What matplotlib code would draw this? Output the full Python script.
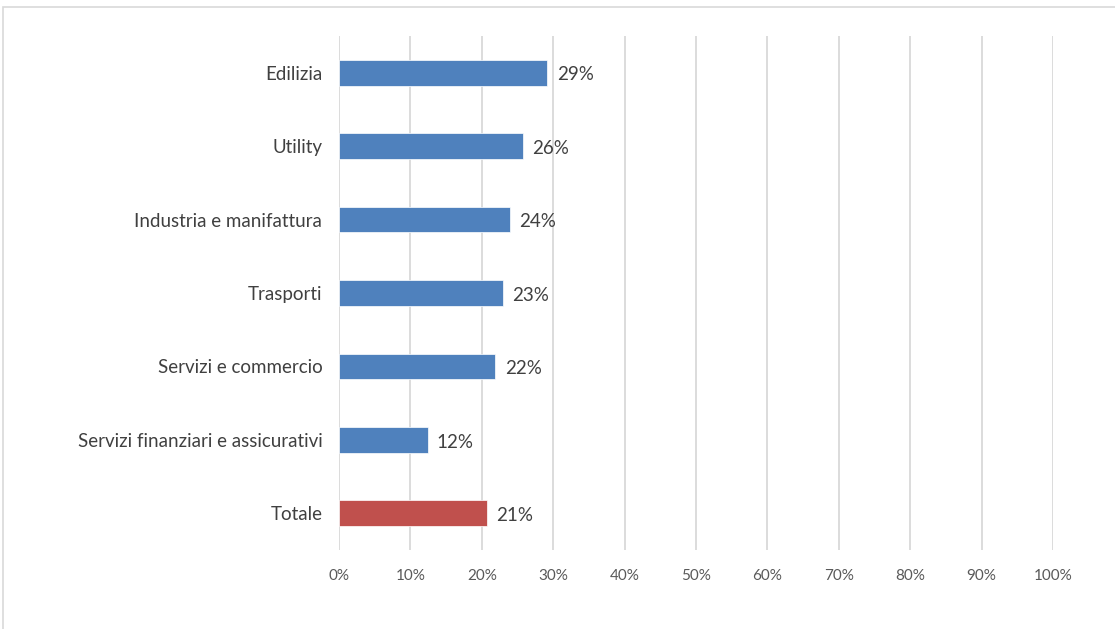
import matplotlib
matplotlib.use("Agg")
import matplotlib.pyplot as plt
from matplotlib.patches import Rectangle

categories = [
    "Edilizia",
    "Utility",
    "Industria e manifattura",
    "Trasporti",
    "Servizi e commercio",
    "Servizi finanziari e assicurativi",
    "Totale",
]
values = [29.2, 25.8, 23.9, 23.0, 21.9, 12.4, 20.7]
colors = ["#4F81BD"] * 6 + ["#C0504D"]
xticks = list(range(0, 101, 10))
xtick_labels = [f"{t}%" for t in xticks]

plt.rcParams["font.family"] = ["Lato", "DejaVu Sans"]

W, H = 1115, 629
fig = plt.figure(figsize=(W / 100, H / 100), dpi=100)
ax = fig.add_axes([339 / W, 1 - 550 / H, (1053 - 339) / W, (550 - 36) / H])

# outer chart frame
fig.patches.append(Rectangle((3 / W, -0.1), 1.2, 1 - 7 / H + 0.1,
                             transform=fig.transFigure, fill=False,
                             edgecolor="#D9D9D9", linewidth=1.2))

ypos = list(range(len(categories)))
ax.barh(ypos, values, height=0.35, color=colors, edgecolor="white",
        linewidth=0.5, zorder=3)
for y, v in zip(ypos, values):
    ax.text(v + 1.3, y + 0.03, f"{v:.0f}%", va="center", ha="left",
            fontsize=13.5, color="#404040")

ax.set_ylim(len(categories) - 0.5, -0.5)
ax.set_xlim(0, 100)
ax.set_yticks(ypos)
ax.set_yticklabels(categories, fontsize=13.5, color="#404040")
ax.set_xticks(xticks)
ax.set_xticklabels(xtick_labels, fontsize=11, color="#595959")
ax.tick_params(axis="both", length=0)
ax.tick_params(axis="x", pad=14)
ax.tick_params(axis="y", pad=12)
ax.grid(axis="x", color="#D9D9D9", linewidth=1.3, zorder=0)
for s in ax.spines.values():
    s.set_visible(False)

fig.savefig("out.png", dpi=100)
